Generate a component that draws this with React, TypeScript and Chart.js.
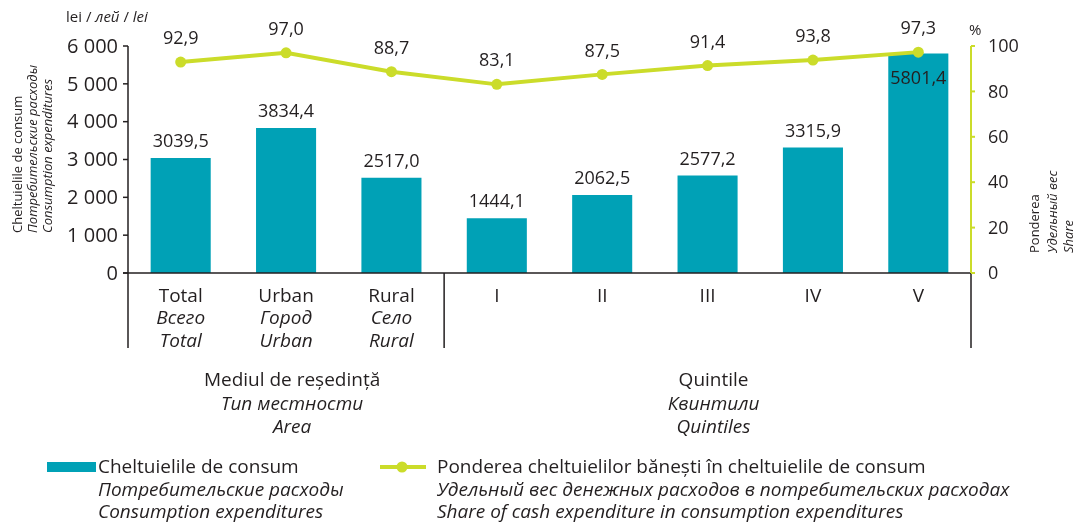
import React, { useEffect, useRef } from "react";
import { Chart, registerables } from "chart.js";
Chart.register(...registerables);

const categories = ["Total", "Urban", "Rural", "I", "II", "III", "IV", "V"];
const categoriesRu = ["Всего", "Город", "Село", "", "", "", "", ""];
const categoriesEn = ["Total", "Urban", "Rural", "", "", "", "", ""];
const expenditures = [3039.5, 3834.4, 2517.0, 1444.1, 2062.5, 2577.2, 3315.9, 5801.4];
const cashShare = [92.9, 97.0, 88.7, 83.1, 87.5, 91.4, 93.8, 97.3];
const group1Label = ["Mediul de reședință", "Тип местности", "Area"];
const group2Label = ["Quintile", "Квинтили", "Quintiles"];
const group1Range = [0, 2];
const group2Range = [3, 7];
const leftTitle = ["Cheltuielile de consum", "Потребительские расходы", "Consumption expenditures"];
const rightTitle = ["Ponderea", "Удельный вес", "Share"];
const legendBar = ["Cheltuielile de consum", "Потребительские расходы", "Consumption expenditures"];
const legendLine = [
  "Ponderea cheltuielilor bănești în cheltuielile de consum",
  "Удельный вес денежных расходов в потребительских расходах",
  "Share of cash expenditure in consumption expenditures",
];

const TEAL = "#00A1B6";
const LIME = "#CBDC2A";
const INK = "#231F20";
const FONT = "'Open Sans', 'Noto Sans', sans-serif";

const fmtDec = (v: number) => v.toFixed(1).replace(".", ",");
const fmtThousands = (v: number) => {
  const s = Math.round(v).toString();
  return s.replace(/\B(?=(\d{3})+(?!\d))/g, " ");
};

const drawPlugin = {
  id: "customDraw",
  afterDraw(chart: any) {
    const { ctx, chartArea } = chart;
    const xs = chart.scales.x;
    const yL = chart.scales.y;
    const yR = chart.scales.y1;
    const left = chartArea.left;
    const right = chartArea.right;
    const y0 = yL.getPixelForValue(0);
    const sepBottom = 348;
    ctx.save();

    // left axis
    ctx.strokeStyle = INK;
    ctx.lineWidth = 1.5;
    ctx.beginPath();
    ctx.moveTo(left, yL.getPixelForValue(yL.max));
    ctx.lineTo(left, sepBottom);
    ctx.stroke();
    // baseline
    ctx.beginPath();
    ctx.moveTo(left - 5, y0);
    ctx.lineTo(right, y0);
    ctx.stroke();
    // left ticks
    ctx.font = `20px ${FONT}`;
    ctx.fillStyle = INK;
    ctx.textAlign = "right";
    ctx.textBaseline = "middle";
    yL.ticks.forEach((t: any) => {
      const y = yL.getPixelForValue(t.value);
      ctx.beginPath();
      ctx.moveTo(left - 5, y);
      ctx.lineTo(left, y);
      ctx.stroke();
      ctx.fillText(fmtThousands(t.value), left - 10, y + 1);
    });
    // separators
    const midX = (xs.getPixelForValue(group1Range[1]) + xs.getPixelForValue(group2Range[0])) / 2;
    ctx.beginPath();
    ctx.moveTo(midX, y0);
    ctx.lineTo(midX, sepBottom);
    ctx.moveTo(right, y0);
    ctx.lineTo(right, sepBottom);
    ctx.stroke();

    // right axis
    ctx.strokeStyle = LIME;
    ctx.lineWidth = 2;
    ctx.beginPath();
    ctx.moveTo(right, yR.getPixelForValue(yR.max));
    ctx.lineTo(right, y0);
    ctx.stroke();
    ctx.textAlign = "left";
    ctx.font = `18px ${FONT}`;
    yR.ticks.forEach((t: any) => {
      const y = yR.getPixelForValue(t.value);
      ctx.strokeStyle = LIME;
      ctx.beginPath();
      ctx.moveTo(right, y);
      ctx.lineTo(right + 4, y);
      ctx.stroke();
      ctx.fillStyle = INK;
      ctx.fillText(String(t.value), right + 17, y + 1);
    });

    // category labels
    ctx.textAlign = "center";
    ctx.fillStyle = INK;
    categories.forEach((c, i) => {
      const x = xs.getPixelForValue(i);
      ctx.font = `19px ${FONT}`;
      ctx.fillText(c, x, 297);
      ctx.font = `italic 19px ${FONT}`;
      if (categoriesRu[i]) ctx.fillText(categoriesRu[i], x, 319);
      if (categoriesEn[i]) ctx.fillText(categoriesEn[i], x, 342);
    });
    // group labels
    const groupsArr = [
      { lab: group1Label, r: group1Range },
      { lab: group2Label, r: group2Range },
    ];
    groupsArr.forEach((g) => {
      const x = (xs.getPixelForValue(g.r[0]) + xs.getPixelForValue(g.r[1])) / 2 + 6;
      ctx.font = `19px ${FONT}`;
      ctx.fillText(g.lab[0], x, 381);
      ctx.font = `italic 19px ${FONT}`;
      ctx.fillText(g.lab[1], x, 405);
      ctx.fillText(g.lab[2], x, 428);
    });

    // bar value labels
    ctx.font = `18px ${FONT}`;
    const barMeta = chart.getDatasetMeta(1);
    barMeta.data.forEach((el: any, i: number) => {
      const v = expenditures[i];
      const inside = v > 5000;
      ctx.fillText(fmtDec(v), el.x, inside ? el.y + 25 : el.y - 16);
    });
    // line value labels
    const lineMeta = chart.getDatasetMeta(0);
    lineMeta.data.forEach((el: any, i: number) => {
      ctx.fillText(fmtDec(cashShare[i]), el.x, el.y - 23);
    });

    // units
    ctx.textAlign = "left";
    let ux = 66;
    const uy = 18;
    const parts: [string, boolean][] = [["lei / ", false], ["лей", true], [" / ", false], ["lei", true]];
    parts.forEach(([t, it]) => {
      ctx.font = `${it ? "italic " : ""}15px ${FONT}`;
      ctx.fillText(t, ux, uy);
      ux += ctx.measureText(t).width;
    });
    ctx.font = `15px ${FONT}`;
    ctx.fillText("%", 969, 31);

    // left title (rotated, bottom aligned)
    const ltX = [18, 33, 48];
    leftTitle.forEach((t, i) => {
      ctx.save();
      ctx.translate(ltX[i], 233);
      ctx.rotate(-Math.PI / 2);
      ctx.font = `${i > 0 ? "italic " : ""}13px ${FONT}`;
      ctx.textAlign = "left";
      ctx.fillText(t, 0, 0);
      ctx.restore();
    });
    // right title
    const rtX = [1035, 1053, 1069];
    rightTitle.forEach((t, i) => {
      ctx.save();
      ctx.translate(rtX[i], 253);
      ctx.rotate(-Math.PI / 2);
      ctx.font = `${i > 0 ? "italic " : ""}13px ${FONT}`;
      ctx.textAlign = "left";
      ctx.fillText(t, 0, 0);
      ctx.restore();
    });

    // legend
    ctx.fillStyle = TEAL;
    ctx.fillRect(47, 462, 49, 10);
    ctx.fillStyle = INK;
    ctx.textAlign = "left";
    const ly = [468, 491, 513];
    legendBar.forEach((t, i) => {
      ctx.font = `${i > 0 ? "italic " : ""}19px ${FONT}`;
      ctx.fillText(t, 98, ly[i]);
    });
    ctx.strokeStyle = LIME;
    ctx.lineWidth = 4;
    ctx.beginPath();
    ctx.moveTo(380, 467);
    ctx.lineTo(426, 467);
    ctx.stroke();
    ctx.fillStyle = LIME;
    ctx.beginPath();
    ctx.arc(402, 467, 5.5, 0, Math.PI * 2);
    ctx.fill();
    ctx.fillStyle = INK;
    legendLine.forEach((t, i) => {
      ctx.font = `${i > 0 ? "italic " : ""}19px ${FONT}`;
      ctx.fillText(t, 437, ly[i]);
    });

    ctx.restore();
  },
};

export default function App() {
  const ref = useRef<HTMLCanvasElement>(null);
  useEffect(() => {
    if (!ref.current) return;
    const chart = new Chart(ref.current, {
      type: "bar",
      data: {
        labels: categories,
        datasets: [
          {
            type: "line",
            label: "share",
            data: cashShare,
            yAxisID: "y1",
            borderColor: LIME,
            backgroundColor: LIME,
            borderWidth: 4,
            pointRadius: 5.5,
            pointBackgroundColor: LIME,
            pointBorderWidth: 0,
            tension: 0,
            order: 0,
          } as any,
          {
            type: "bar",
            label: "exp",
            data: expenditures,
            yAxisID: "y",
            backgroundColor: TEAL,
            borderWidth: 0,
            categoryPercentage: 1,
            barPercentage: 0.57,
            order: 1,
          },
        ],
      },
      options: {
        responsive: false,
        animation: false,
        devicePixelRatio: 1,
        layout: { padding: { left: 128, right: 110, top: 46, bottom: 251 } },
        plugins: { legend: { display: false }, tooltip: { enabled: false } },
        scales: {
          x: { display: false, offset: true },
          y: { display: false, min: 0, max: 6000, ticks: { stepSize: 1000 } },
          y1: { display: false, position: "right", min: 0, max: 100, ticks: { stepSize: 20 } },
        },
      },
      plugins: [drawPlugin],
    });
    return () => chart.destroy();
  }, []);
  return (
    <div style={{ position: "absolute", left: 0, top: 0, width: 1081, height: 524, background: "#fff" }}>
      <canvas ref={ref} width={1081} height={524} />
    </div>
  );
}
